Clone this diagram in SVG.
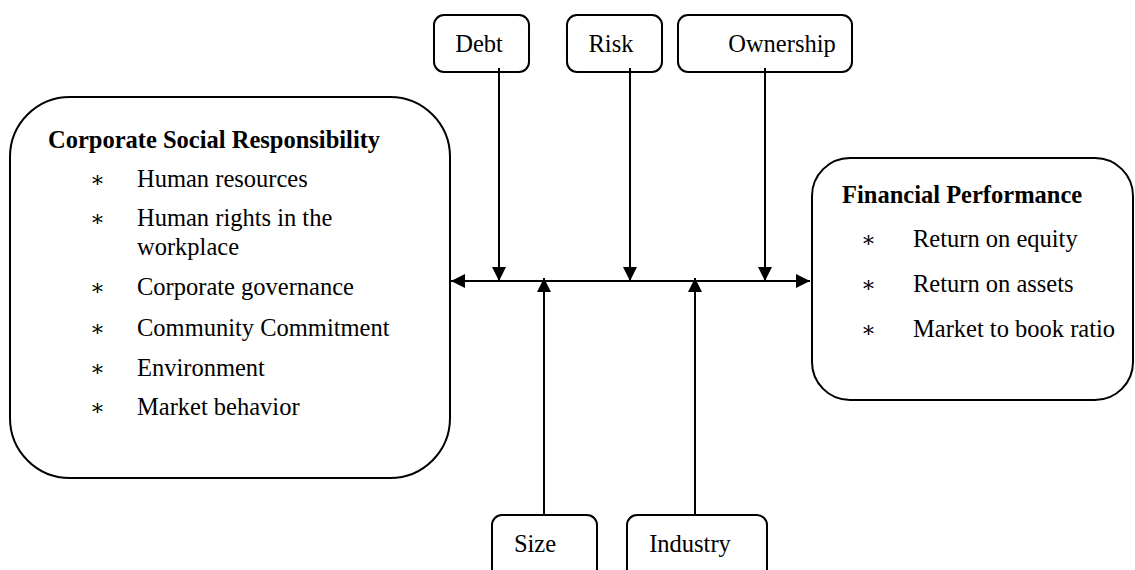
<svg xmlns="http://www.w3.org/2000/svg" width="1135" height="570" viewBox="0 0 1135 570">
<style>
.box{fill:#fff;stroke:#000;stroke-width:2}
.t{font-family:"Liberation Serif","Times New Roman",serif;font-size:24.5px;fill:#000}
.b{font-weight:bold}
.ast{font-family:"DejaVu Serif","Liberation Serif",serif;font-size:22px;fill:#000}
.ln{stroke:#000;stroke-width:2;fill:none}
</style>
<defs>
<marker id="ah" markerUnits="userSpaceOnUse" markerWidth="16" markerHeight="16" viewBox="0 0 16 16" refX="15" refY="8" orient="auto-start-reverse">
<path d="M1,1 L15,8 L1,15 Z" fill="#000"/>
</marker>
</defs>
<rect width="1135" height="570" fill="#fff"/>
<g id="csr">
<rect class="box" x="10" y="97" width="440" height="381" rx="60" ry="60"/>
<text class="t b" x="48" y="148">Corporate Social Responsibility</text>
<text class="ast" x="90" y="187">∗</text><text class="t" x="137" y="187">Human resources</text>
<text class="ast" x="90" y="226">∗</text><text class="t" x="137" y="226">Human rights in the</text>
<text class="t" x="137" y="255">workplace</text>
<text class="ast" x="90" y="295">∗</text><text class="t" x="137" y="295">Corporate governance</text>
<text class="ast" x="90" y="336">∗</text><text class="t" x="137" y="336">Community Commitment</text>
<text class="ast" x="90" y="376">∗</text><text class="t" x="137" y="376">Environment</text>
<text class="ast" x="90" y="415">∗</text><text class="t" x="137" y="415">Market behavior</text>
</g>
<g id="fp">
<rect class="box" x="812" y="158" width="321" height="242" rx="38" ry="38"/>
<text class="t b" x="842" y="203">Financial Performance</text>
<text class="ast" x="861" y="247">∗</text><text class="t" x="913" y="247">Return on equity</text>
<text class="ast" x="861" y="292">∗</text><text class="t" x="913" y="292">Return on assets</text>
<text class="ast" x="861" y="337">∗</text><text class="t" x="913" y="337">Market to book ratio</text>
</g>
<g id="debt">
<rect class="box" x="434" y="15" width="95" height="57" rx="10" ry="10"/>
<text class="t" x="479" y="52" text-anchor="middle">Debt</text>
</g>
<g id="risk">
<rect class="box" x="567" y="15" width="95" height="57" rx="10" ry="10"/>
<text class="t" x="611" y="52" text-anchor="middle">Risk</text>
</g>
<g id="ownership">
<rect class="box" x="678" y="15" width="174" height="57" rx="10" ry="10"/>
<text class="t" x="782" y="52" text-anchor="middle">Ownership</text>
</g>
<g id="size">
<rect class="box" x="492" y="515" width="105" height="70" rx="10" ry="10"/>
<text class="t" x="535" y="552" text-anchor="middle">Size</text>
</g>
<g id="industry">
<rect class="box" x="627" y="515" width="140" height="70" rx="10" ry="10"/>
<text class="t" x="690" y="552" text-anchor="middle">Industry</text>
</g>
<g id="connectors">
<line class="ln" x1="451" y1="281" x2="810" y2="281" marker-start="url(#ah)" marker-end="url(#ah)"/>
<line class="ln" x1="499" y1="68" x2="499" y2="281" marker-end="url(#ah)"/>
<line class="ln" x1="630" y1="68" x2="630" y2="281" marker-end="url(#ah)"/>
<line class="ln" x1="765" y1="68" x2="765" y2="281" marker-end="url(#ah)"/>
<line class="ln" x1="544" y1="515" x2="544" y2="278" marker-end="url(#ah)"/>
<line class="ln" x1="695" y1="515" x2="695" y2="278" marker-end="url(#ah)"/>
</g>
</svg>
